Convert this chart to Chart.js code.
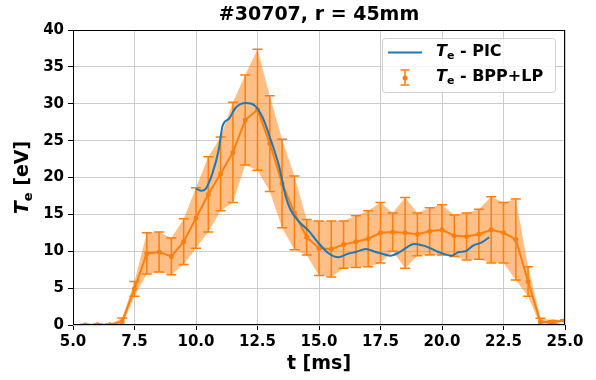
<!DOCTYPE html>
<html>
<head>
<meta charset="utf-8">
<script src="https://cdn.jsdelivr.net/npm/chart.js@4.4.1/dist/chart.umd.min.js"></script>
<style>
  html, body { margin: 0; padding: 0; background: #fff; }
  #wrap { width: 596px; height: 380px; }
</style>
</head>
<body>
<div id="wrap"><canvas id="teChart" width="596" height="380"></canvas></div>
<script>
// BPP+LP measurement: time [ms], Te [eV], half error [eV]
const tProbe = [5.5, 6.0, 6.5, 7.0, 7.5, 8.0, 8.5, 9.0, 9.5, 10.0, 10.5, 11.0, 11.5, 12.0, 12.5, 13.0, 13.5, 14.0, 14.5, 15.0,
                15.5, 16.0, 16.5, 17.0, 17.5, 18.0, 18.5, 19.0, 19.5, 20.0, 20.5, 21.0, 21.5, 22.0, 22.5, 23.0, 23.5, 24.0, 24.5, 25.0];
const teProbe = [0.0, 0.05, 0.05, 0.45, 4.9, 9.7, 9.9, 9.3, 11.3, 14.5, 17.7, 20.5, 23.4, 27.8, 29.2, 24.6, 19.2, 15.2, 11.9, 10.4,
                 10.3, 10.9, 11.3, 11.7, 12.5, 12.6, 12.5, 12.3, 12.7, 12.9, 12.1, 12.0, 12.3, 12.9, 12.5, 11.6, 5.9, 0.4, 0.4, 0.6];
const errProbe = [0.1, 0.1, 0.1, 0.5, 1.0, 2.8, 2.7, 2.5, 3.1, 4.1, 5.1, 5.0, 6.8, 6.1, 8.2, 6.5, 6.0, 5.0, 2.4, 3.7,
                  3.8, 3.2, 3.5, 3.8, 4.1, 2.6, 4.8, 2.9, 3.2, 3.4, 2.8, 3.2, 3.4, 4.5, 4.1, 5.5, 2.0, 0.5, 0.2, 0.1];

// PIC simulation
const tPic = [10.0, 10.2, 10.4, 10.67, 10.92, 11.08, 11.35, 11.62, 12.03, 12.37, 12.7, 13.04, 13.38, 13.65, 13.85, 14.19, 14.6, 14.93,
              15.4, 15.8, 16.2, 16.5, 16.9, 17.3, 17.63, 17.9, 18.24, 18.51, 18.85, 19.32, 19.86, 20.4, 20.68, 20.95, 21.28, 21.62, 21.92];
const tePic = [18.5, 18.2, 18.5, 20.6, 23.7, 27.0, 28.0, 29.5, 30.1, 29.8, 28.2, 25.1, 21.5, 17.4, 15.6, 14.0, 12.7, 11.3,
               9.7, 9.2, 9.7, 9.9, 10.3, 9.9, 9.6, 9.4, 9.8, 10.4, 11.0, 10.7, 9.9, 9.4, 9.9, 10.0, 10.8, 11.2, 11.9];

const xTicks = [5.0, 7.5, 10.0, 12.5, 15.0, 17.5, 20.0, 22.5, 25.0];
const yTicks = [0, 5, 10, 15, 20, 25, 30, 35, 40];

const ORANGE = '#ff7f0e';
const BLUE = '#1f77b4';
const FONT = 'DejaVu Sans';

const upper = tProbe.map((t, i) => ({ x: t, y: teProbe[i] + errProbe[i] }));
const lower = tProbe.map((t, i) => ({ x: t, y: teProbe[i] - errProbe[i] }));

// draws "T_e" + suffix starting at x, returns nothing
function drawTe(ctx, x, y, suffix, size) {
    ctx.textBaseline = 'middle';
    ctx.textAlign = 'left';
    ctx.font = 'italic bold ' + size + 'px "' + FONT + '"';
    ctx.fillText('T', x, y);
    let w = ctx.measureText('T').width;
    ctx.font = 'bold ' + Math.round(size * 0.7) + 'px "' + FONT + '"';
    ctx.fillText('e', x + w, y + size * 0.28);
    w += ctx.measureText('e').width;
    ctx.font = 'bold ' + size + 'px "' + FONT + '"';
    ctx.fillText(suffix, x + w, y);
}
function teWidth(ctx, suffix, size) {
    ctx.font = 'italic bold ' + size + 'px "' + FONT + '"';
    let w = ctx.measureText('T').width;
    ctx.font = 'bold ' + Math.round(size * 0.7) + 'px "' + FONT + '"';
    w += ctx.measureText('e').width;
    ctx.font = 'bold ' + size + 'px "' + FONT + '"';
    return w + ctx.measureText(suffix).width;
}

function drawErrorIcon(ctx, x, yTop, yBot, cap) {
    ctx.beginPath();
    ctx.moveTo(x, yTop); ctx.lineTo(x, yBot);
    ctx.moveTo(x - cap, yTop); ctx.lineTo(x + cap, yTop);
    ctx.moveTo(x - cap, yBot); ctx.lineTo(x + cap, yBot);
    ctx.stroke();
}

const errorBars = {
    id: 'errorBars',
    afterDatasetDraw(chart, args) {
        if (args.index !== 2) return;
        const ctx = chart.ctx, xs = chart.scales.x, ys = chart.scales.y;
        ctx.save();
        ctx.beginPath();
        ctx.rect(chart.chartArea.left, chart.chartArea.top - 8, chart.chartArea.width, chart.chartArea.height + 8);
        ctx.clip();
        ctx.strokeStyle = ORANGE;
        ctx.lineWidth = 1.5;
        tProbe.forEach((t, i) => {
            const px = xs.getPixelForValue(t);
            drawErrorIcon(ctx, px, ys.getPixelForValue(teProbe[i] + errProbe[i]),
                          ys.getPixelForValue(teProbe[i] - errProbe[i]), 5);
        });
        ctx.restore();
    }
};

const decorations = {
    id: 'decorations',
    afterDraw(chart) {
        const ctx = chart.ctx, a = chart.chartArea;
        ctx.save();
        // frame
        ctx.strokeStyle = '#000';
        ctx.lineWidth = 1;
        ctx.strokeRect(a.left + 0.5, a.top + 0.5, a.width - 1, a.height - 1);

        ctx.fillStyle = '#000';
        // title
        ctx.font = 'bold 19px "' + FONT + '"';
        ctx.textAlign = 'center';
        ctx.textBaseline = 'middle';
        ctx.fillText('#30707, r = 45mm', (a.left + a.right) / 2, 15);
        // x label
        ctx.fillText('t [ms]', (a.left + a.right) / 2, 364);
        // y label
        ctx.save();
        ctx.translate(23, (a.top + a.bottom) / 2);
        ctx.rotate(-Math.PI / 2);
        const w = teWidth(ctx, ' [eV]', 19);
        drawTe(ctx, -w / 2, 0, ' [eV]', 19);
        ctx.restore();

        // legend
        ctx.fillStyle = 'rgba(255,255,255,0.8)';
        ctx.strokeStyle = '#d0d0d0';
        ctx.lineWidth = 1;
        ctx.beginPath();
        ctx.roundRect(382.5, 38.5, 173, 54, 3);
        ctx.fill();
        ctx.stroke();

        ctx.strokeStyle = BLUE;
        ctx.lineWidth = 2;
        ctx.beginPath();
        ctx.moveTo(388, 52.5); ctx.lineTo(422, 52.5);
        ctx.stroke();

        ctx.strokeStyle = ORANGE;
        ctx.lineWidth = 1.5;
        drawErrorIcon(ctx, 405, 70, 85, 4.5);
        ctx.fillStyle = ORANGE;
        ctx.beginPath();
        ctx.arc(405, 78, 2.5, 0, Math.PI * 2);
        ctx.fill();

        ctx.fillStyle = '#000';
        drawTe(ctx, 436, 52, ' - PIC', 16);
        drawTe(ctx, 436, 77, ' - BPP+LP', 16);
        ctx.restore();
    }
};

const ctx = document.getElementById('teChart').getContext('2d');
const teChart = new Chart(ctx, {
    type: 'line',
    data: {
        datasets: [
            {
                label: 'upper',
                data: upper,
                borderWidth: 0,
                pointRadius: 0,
                backgroundColor: 'rgba(255,127,14,0.5)',
                fill: '+1',
                order: 3
            },
            {
                label: 'lower',
                data: lower,
                borderWidth: 0,
                pointRadius: 0,
                fill: false,
                order: 4
            },
            {
                label: 'Te - BPP+LP',
                data: tProbe.map((t, i) => ({ x: t, y: teProbe[i] })),
                borderColor: ORANGE,
                backgroundColor: ORANGE,
                borderWidth: 2,
                pointRadius: 2.5,
                pointBorderWidth: 0,
                fill: false,
                order: 2
            },
            {
                label: 'Te - PIC',
                data: tPic.map((t, i) => ({ x: t, y: tePic[i] })),
                borderColor: BLUE,
                borderWidth: 2,
                pointRadius: 0,
                cubicInterpolationMode: 'monotone',
                fill: false,
                order: 1
            }
        ]
    },
    options: {
        responsive: false,
        animation: false,
        layout: { padding: { left: 0, right: 31, top: 30, bottom: 0 } },
        plugins: {
            legend: { display: false },
            title: { display: false },
            tooltip: { enabled: false }
        },
        scales: {
            x: {
                type: 'linear',
                min: 5, max: 25,
                afterBuildTicks: (s) => { s.ticks = xTicks.map(v => ({ value: v })); },
                afterFit: (s) => { s.height = 55; },
                grid: { color: '#cccccc', tickColor: '#000', tickLength: 5 },
                border: { display: false },
                ticks: {
                    color: '#000',
                    padding: 3,
                    maxRotation: 0,
                    font: { family: FONT, size: 15, weight: 'bold' },
                    callback: (v) => v.toFixed(1)
                }
            },
            y: {
                min: 0, max: 40,
                afterBuildTicks: (s) => { s.ticks = yTicks.map(v => ({ value: v })); },
                afterFit: (s) => { s.width = 73; },
                grid: { color: '#cccccc', tickColor: '#000', tickLength: 5 },
                border: { display: false },
                ticks: {
                    color: '#000',
                    padding: 4,
                    font: { family: FONT, size: 15, weight: 'bold' },
                    callback: (v) => String(v)
                }
            }
        }
    },
    plugins: [errorBars, decorations]
});
</script>
</body>
</html>
